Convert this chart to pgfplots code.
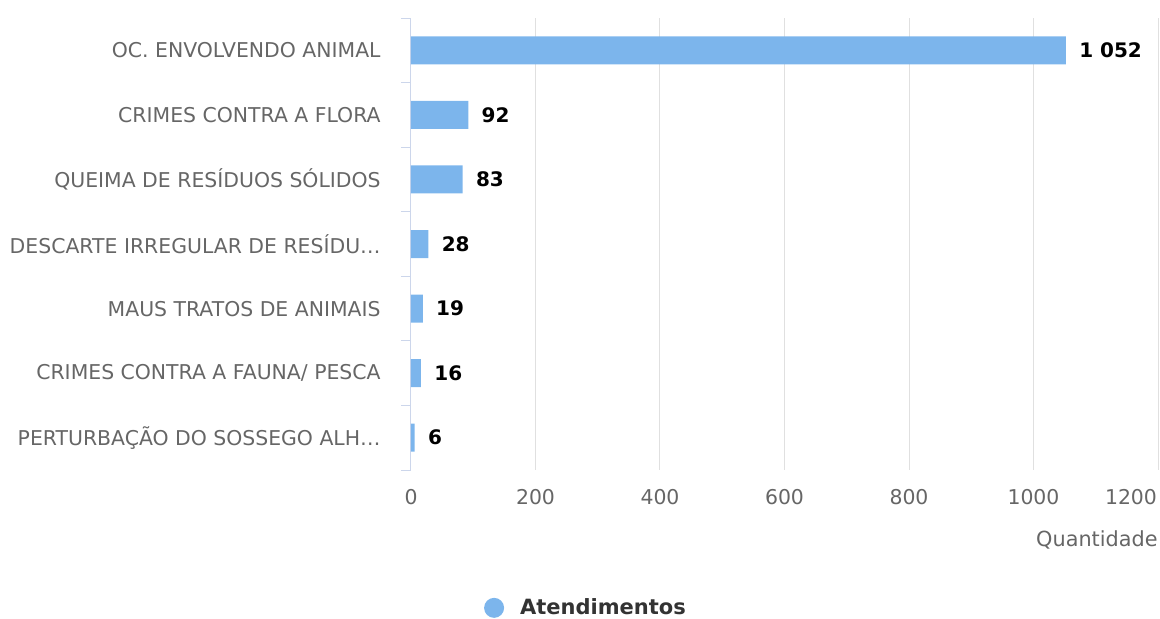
\documentclass[border=0pt]{standalone}
\usepackage{fontspec}
\setmainfont{DejaVu Sans}
\usepackage{pgfplots}
\pgfplotsset{compat=1.18}
\definecolor{barc}{HTML}{7CB5EC}
\definecolor{gridc}{HTML}{E0E0E0}
\definecolor{axc}{HTML}{CCD6EB}
\definecolor{lab}{HTML}{666666}
\definecolor{leg}{HTML}{333333}
\begin{document}
\begin{tikzpicture}
\begin{axis}[
  at={(0,0)}, anchor=south west,
  scale only axis, width=373.5pt, height=226pt,
  xmin=0, xmax=1200, ymin=-0.5, ymax=6.5, y dir=reverse,
  xbar, bar width=14pt,
  axis lines*=left,
  x axis line style={draw=none,-},
  y axis line style={draw=axc,line width=0.5pt,-},
  xtick={0,200,...,1000},
  extra x ticks={1200},
  extra x tick style={grid=major, xticklabel style={xshift=-13.5pt}},
  xmajorgrids, grid style={draw=gridc,line width=0.5pt},
  major tick length=0pt,
  ytick={0,...,6},
  yticklabels={OC. ENVOLVENDO ANIMAL, CRIMES CONTRA A FLORA, QUEIMA DE RESÍDUOS SÓLIDOS, DESCARTE IRREGULAR DE RESÍDU…, MAUS TRATOS DE ANIMAIS, CRIMES CONTRA A FAUNA/ PESCA, PERTURBAÇÃO DO SOSSEGO ALH…},
  minor ytick={-0.5,0.5,...,6.5},
  minor tick length=5pt,
  tick align=outside,
  ytick style={draw=axc,line width=0.5pt},
  xtick style={draw=none},
  /pgf/number format/assume math mode=true,
  /pgf/number format/1000 sep={},
  xticklabel style={font=\fontsize{10.2}{12}\selectfont, text=lab, anchor=center, yshift=-13.5pt},
  yticklabel style={font=\fontsize{10.2}{12}\selectfont, text=lab, anchor=east, inner sep=0pt, xshift=-15pt},
  xlabel={Quantidade},
  xlabel style={font=\fontsize{10.4}{12}\selectfont, text=lab, at={(axis description cs:1,0)}, anchor=east, inner sep=0pt, yshift=-35pt},
  nodes near coords={\pgfmathprintnumber[1000 sep={\ }]{\pgfplotspointmeta}},
  every node near coord/.append style={font=\bfseries\fontsize{10}{12}\selectfont, text=black, anchor=west, inner sep=0pt, xshift=6.5pt},
  legend style={at={(axis description cs:0.2356,-0.305)}, anchor=center, draw=none, fill=none, font=\bfseries\fontsize{10.5}{12}\selectfont, text=leg},
  legend image code/.code={\fill[barc] (0pt,0pt) circle (5pt); \path (-5pt,0pt) (11pt,0pt);},
]
\addplot[fill=barc, draw=none] coordinates {
  (1052,0) (92,1) (83,2) (28,3) (19,4) (16,5) (6,6)
};
\addlegendentry{Atendimentos}
\end{axis}
\pgfresetboundingbox
\useasboundingbox (-205.5pt,-74.5pt) rectangle (374.5pt,235pt);
\end{tikzpicture}
\end{document}
